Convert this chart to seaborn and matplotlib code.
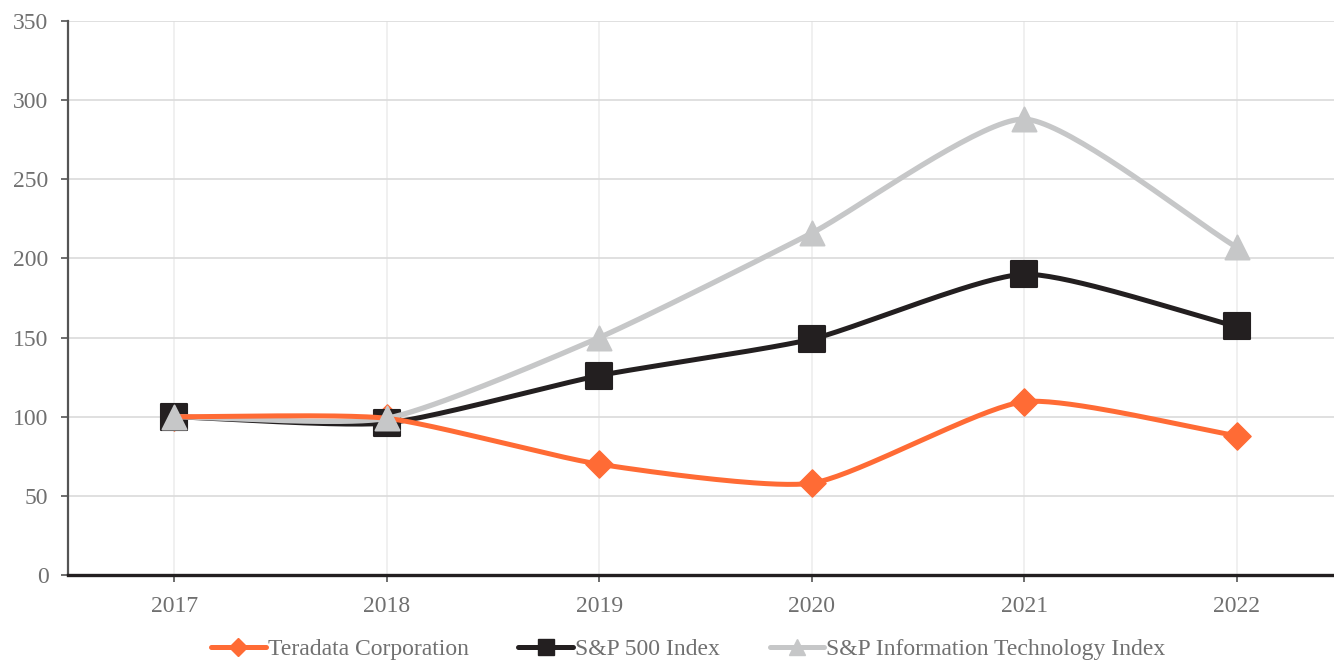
import numpy as np
import seaborn as sns
import matplotlib.pyplot as plt
from matplotlib.lines import Line2D

# Data
years = [2017, 2018, 2019, 2020, 2021, 2022]
teradata = [100, 99, 70, 58, 109.5, 88]
sp500 = [100, 96, 126, 149, 190, 157]
sp_it = [100, 99, 150, 216, 288, 207]
series_names = ["Teradata Corporation", "S&P 500 Index", "S&P Information Technology Index"]

# pixel size of one unit on each axis (used for the spline weights)
PX_X = 212.4
PX_Y = 1.583


def spline_curve(x, y, tension=0.2, n=40):
    # cubic bezier smoothing between the points, weights taken in pixel space
    x = np.asarray(x, float)
    y = np.asarray(y, float)
    k = len(x)
    cp_in = np.zeros((k, 2))
    cp_out = np.zeros((k, 2))
    for i in range(k):
        p = np.array([x[i], y[i]])
        prv = np.array([x[max(i - 1, 0)], y[max(i - 1, 0)]])
        nxt = np.array([x[min(i + 1, k - 1)], y[min(i + 1, k - 1)]])
        d01 = np.hypot((p[0] - prv[0]) * PX_X, (p[1] - prv[1]) * PX_Y)
        d12 = np.hypot((nxt[0] - p[0]) * PX_X, (nxt[1] - p[1]) * PX_Y)
        s01 = d01 / (d01 + d12)
        s12 = d12 / (d01 + d12)
        cp_in[i] = p - tension * s01 * (nxt - prv)
        cp_out[i] = p + tension * s12 * (nxt - prv)
    t = np.linspace(0, 1, n)[:, None]
    pts = []
    for i in range(k - 1):
        p0 = np.array([x[i], y[i]])
        p3 = np.array([x[i + 1], y[i + 1]])
        seg = ((1 - t) ** 3) * p0 + 3 * ((1 - t) ** 2) * t * cp_out[i] \
            + 3 * (1 - t) * t ** 2 * cp_in[i + 1] + t ** 3 * p3
        pts.append(seg)
    pts = np.vstack(pts)
    return pts[:, 0], pts[:, 1]


sns.set_theme(style="whitegrid")
plt.rcParams["font.family"] = ["Liberation Serif", "DejaVu Serif"]

fig = plt.figure(figsize=(13.34, 6.65), dpi=100)
ax = fig.add_axes([68 / 1334, 90 / 665, 1275 / 1334, 554 / 665])

orange = "#ff6b35"
black = "#231f20"
grey = "#c6c7c8"

xt, yt = spline_curve(years, teradata)
xs, ys = spline_curve(years, sp500)
xi, yi = spline_curve(years, sp_it)

# teradata markers underneath, then S&P 500, then teradata line, then IT on top
sns.scatterplot(x=years, y=teradata, marker="D", s=190, color=orange, edgecolor=orange, ax=ax, zorder=2)
sns.lineplot(x=xs, y=ys, color=black, lw=3.6, ax=ax, zorder=3, sort=False)
sns.scatterplot(x=years, y=sp500, marker="s", s=360, color=black, edgecolor=black, ax=ax, zorder=3)
sns.lineplot(x=xi, y=yi, color=grey, lw=3.8, ax=ax, zorder=4, sort=False)
sns.lineplot(x=xt, y=yt, color=orange, lw=3.6, ax=ax, zorder=4.5, sort=False)
sns.scatterplot(x=years, y=sp_it, marker="^", s=300, color=grey, edgecolor=grey, ax=ax, zorder=5)

ax.set_xlim(2016.5, 2022.5)
ax.set_ylim(0, 350)
ax.set_xticks(years)
ax.set_yticks(range(0, 351, 50))
ax.set_xlabel("")
ax.set_ylabel("")

ax.grid(axis="y", color="#dddddd", lw=1.3)
ax.grid(axis="x", color="#eeeeee", lw=1.2)
ax.set_facecolor("white")
for side in ["top", "right"]:
    ax.spines[side].set_visible(False)
ax.spines["left"].set_color("#555555")
ax.spines["left"].set_linewidth(1.6)
ax.spines["bottom"].set_color(black)
ax.spines["bottom"].set_linewidth(2.4)

ax.tick_params(axis="both", colors="#555555", labelcolor="#707070", labelsize=17,
               length=5, width=1.2, direction="out", left=True, bottom=True)
ax.tick_params(axis="y", pad=9)
ax.tick_params(axis="x", pad=10)

handles = [
    Line2D([], [], color=orange, lw=3.6, marker="D", ms=9),
    Line2D([], [], color=black, lw=3.6, marker="s", ms=12),
    Line2D([], [], color=grey, lw=3.6, marker="^", ms=12),
]
leg = fig.legend(handles, series_names, loc="center", bbox_to_anchor=(0.516, 0.023), ncol=3,
                 frameon=False, fontsize=17, handlelength=2.3, handletextpad=0.1, columnspacing=2.1)
for t in leg.get_texts():
    t.set_color("#707070")

fig.savefig("out.png", dpi=100)
